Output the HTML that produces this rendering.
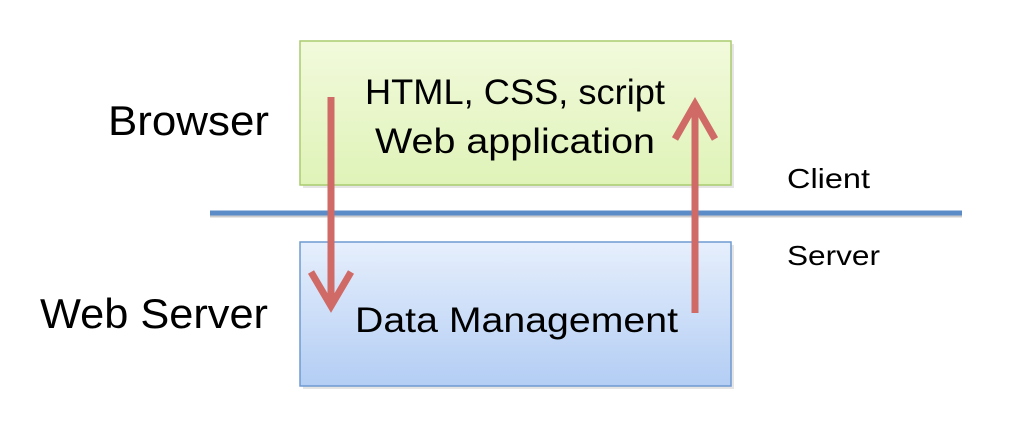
<!DOCTYPE html>
<html><head><meta charset="utf-8"><style>html,body{margin:0;padding:0;background:#fff}</style></head>
<body>
<svg width="1012" height="430" viewBox="0 0 1012 430" xmlns="http://www.w3.org/2000/svg" font-family="Liberation Sans, sans-serif">
<defs>
<linearGradient id="g" x1="0" y1="0" x2="0" y2="1"><stop offset="0" stop-color="#f2fadc"/><stop offset="1" stop-color="#dff3b8"/></linearGradient>
<linearGradient id="b" x1="0" y1="0" x2="0" y2="1"><stop offset="0" stop-color="#e6effc"/><stop offset="1" stop-color="#b3cdf4"/></linearGradient>
</defs>
<rect x="303" y="44" width="431" height="144" fill="#ccc" opacity="0.5"/>
<rect x="300" y="41" width="431" height="144" fill="url(#g)" stroke="#a9cc6e" stroke-width="1.5"/>
<rect x="303" y="245" width="431" height="144" fill="#ccc" opacity="0.5"/>
<rect x="300" y="242" width="431" height="144" fill="url(#b)" stroke="#6f9ad0" stroke-width="1.5"/>
<line x1="210" y1="215" x2="962" y2="215" stroke="#ccc" stroke-width="5"/>
<line x1="210" y1="213" x2="962" y2="213" stroke="#5b8cc8" stroke-width="5"/>
<g stroke="#d06a66" stroke-width="7" fill="none" stroke-linecap="butt">
<line x1="331" y1="97" x2="331" y2="306"/>
<polyline points="311,272 331,306 351,272" stroke-linejoin="miter"/>
<line x1="695" y1="313" x2="695" y2="104"/>
<polyline points="675,139 695,104 715,139"/>
</g>
<g fill="#000">
<text x="108" y="135" font-size="42" textLength="161" lengthAdjust="spacingAndGlyphs">Browser</text>
<text x="40" y="328" font-size="42" textLength="228" lengthAdjust="spacingAndGlyphs">Web Server</text>
<text x="365" y="104" font-size="35" textLength="300" lengthAdjust="spacingAndGlyphs">HTML, CSS, script</text>
<text x="375" y="153" font-size="35" textLength="280" lengthAdjust="spacingAndGlyphs">Web application</text>
<text x="355" y="332" font-size="35" textLength="323" lengthAdjust="spacingAndGlyphs">Data Management</text>
<text x="787" y="188" font-size="28" textLength="83" lengthAdjust="spacingAndGlyphs">Client</text>
<text x="787" y="265" font-size="28" textLength="93" lengthAdjust="spacingAndGlyphs">Server</text>
</g>
</svg>
</body></html>
